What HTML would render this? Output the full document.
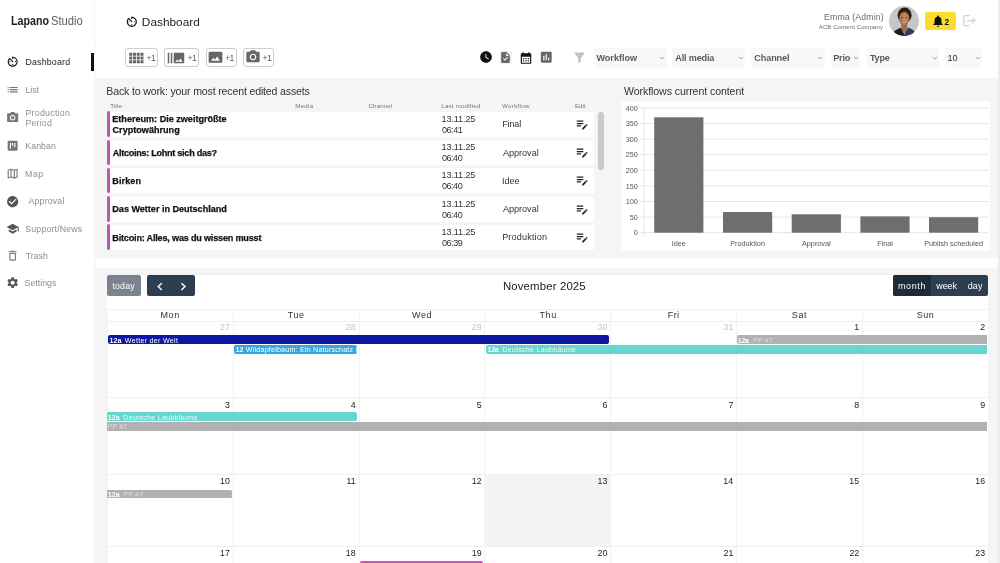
<!DOCTYPE html>
<html lang="en">
<head>
<meta charset="utf-8">
<title>Lapano Studio - Dashboard</title>
<style>
*{box-sizing:border-box;margin:0;padding:0}
html,body{width:1000px;height:563px;overflow:hidden;background:#fff}
body{font-family:"Liberation Sans",sans-serif;color:#333;position:relative;font-size:9px}
.abs{position:absolute}
.t{position:absolute;white-space:nowrap;line-height:1}
#sidebar{position:absolute;left:0;top:0;width:94px;height:563px;background:#fff}
#main{position:absolute;left:94px;top:78px;width:906px;height:485px;background:#f5f5f5}
.tb{position:absolute;top:48.2px;height:18.6px;border:1px solid #cdcdcd;border-radius:3px;background:#fff}
.sel{position:absolute;top:48.4px;height:19.2px;background:#f8f8f8;border-radius:3px}
.row{position:absolute;left:108px;width:486px;height:25.3px;background:#fff}
.vl{position:absolute;width:1px;background:#f2f2f2}
.hl{position:absolute;height:1px;background:#efefef;left:107px;width:881px}
.cb{position:absolute;top:275.4px;height:20.2px}
</style>
</head>
<body>
<div id="sidebar"></div>
<div id="main"></div>
<div class="abs" style="left:94px;top:40px;width:906px;height:1px;background:#fafafa"></div>
<div class="abs" style="left:93.500px;top:0;width:1px;height:78px;background:#f4f4f4"></div>
<div class="abs" style="left:95px;top:257.800px;width:903px;height:10.100px;background:#fefefe;border-radius:3px"></div>
<div class="abs" style="left:107px;top:273.500px;width:881px;height:1.500px;background:#efefef"></div>
<div class="abs" style="left:107px;top:275px;width:881px;height:288px;background:#fff"></div>
<div class="abs" style="left:998px;top:0;width:2px;height:563px;background:#ececec"></div>
<nav aria-label="Sidebar">
<div class="t" style="left:11.10px;top:14.00px;font-size:13px;color:#1e1e1e;font-weight:bold;transform:translateY(-0.5px) scaleX(0.824);transform-origin:0 0;">Lapano</div>
<div class="t" style="left:50.70px;top:14.00px;font-size:13px;color:#606060;transform:translateY(-0.5px) scaleX(0.862);transform-origin:0 0;">Studio</div>
<div class="abs" style="left:91px;top:53px;width:3px;height:18px;background:#111"></div>
<div class="t" style="left:25.50px;top:58.00px;font-size:8.8px;color:#222;letter-spacing:0.187px;">Dashboard</div>
<div class="t" style="left:25.50px;top:86.00px;font-size:8.8px;color:#8e8e8e;letter-spacing:-0.093px;">List</div>
<div class="t" style="left:25.50px;top:109.00px;font-size:8.8px;color:#8e8e8e;letter-spacing:0.252px;">Production</div>
<div class="t" style="left:25.50px;top:119.00px;font-size:8.8px;color:#8e8e8e;letter-spacing:0.180px;">Period</div>
<div class="t" style="left:25.30px;top:142.00px;font-size:8.8px;color:#8e8e8e;letter-spacing:0.043px;">Kanban</div>
<div class="t" style="left:25.10px;top:170.00px;font-size:8.8px;color:#8e8e8e;letter-spacing:0.520px;">Map</div>
<div class="t" style="left:28.50px;top:197.00px;font-size:8.8px;color:#8e8e8e;letter-spacing:0.159px;">Approval</div>
<div class="t" style="left:25.30px;top:225.00px;font-size:8.8px;color:#8e8e8e;letter-spacing:0.149px;">Support/News</div>
<div class="t" style="left:25.82px;top:252.00px;font-size:8.8px;color:#8e8e8e;letter-spacing:-0.043px;">Trash</div>
<div class="t" style="left:24.50px;top:279.00px;font-size:8.8px;color:#8e8e8e;letter-spacing:0.013px;">Settings</div>
<svg class="abs" style="left:6.45px;top:55.35px" width="13.3" height="13.3" viewBox="0 0 24 24"><path d="M11 17c0 .550.450 1 1 1s1-.450 1-1-.450-1-1-1-1 .450-1 1zm0-14v4h2V5.080c3.390.490 6 3.390 6 6.920 0 3.870-3.130 7-7 7s-7-3.130-7-7c0-1.680.590-3.220 1.580-4.420L12 13l1.410-1.410-6.800-6.800v.020C4.420 6.450 3 9.050 3 12c0 4.970 4.020 9 9 9 4.970 0 9-4.030 9-9s-4.030-9-9-9h-1zm7 9c0-.550-.450-1-1-1s-1 .450-1 1 .450 1 1 1 1-.450 1-1zM6 12c0 .550.450 1 1 1s1-.450 1-1-.450-1-1-1-1 .450-1 1z" fill="#111" fill-rule="evenodd"/></svg>
<svg class="abs" style="left:6.45px;top:82.95px" width="13.3" height="13.3" viewBox="0 0 24 24"><path d="M3 13h2v-2H3v2zm0 4h2v-2H3v2zm0-8h2V7H3v2zm4 4h14v-2H7v2zm0 4h14v-2H7v2zM7 7v2h14V7H7z" fill="#777" fill-rule="evenodd"/></svg>
<svg class="abs" style="left:6.45px;top:110.55px" width="13.3" height="13.3" viewBox="0 0 24 24"><path d="M9 2L7.17 4H4c-1.1 0-2 .9-2 2v12c0 1.1.9 2 2 2h16c1.1 0 2-.9 2-2V6c0-1.1-.9-2-2-2h-3.17L15 2H9zm3 15c-2.760 0-5-2.240-5-5s2.240-5 5-5 5 2.240 5 5-2.240 5-5 5zM12 8.800a3.200 3.200 0 1 0 0 6.400a3.200 3.200 0 1 0 0-6.400z" fill="#777" fill-rule="evenodd"/></svg>
<svg class="abs" style="left:6.45px;top:139.35px" width="13.3" height="13.3" viewBox="0 0 24 24"><path d="M19 3H5c-1.100 0-2 .900-2 2v14c0 1.100.900 2 2 2h14c1.100 0 2-.900 2-2V5c0-1.100-.900-2-2-2zM9 17H7V7h2v10zm4-5h-2V7h2v5zm4 3h-2V7h2v8z" fill="#777" fill-rule="evenodd"/></svg>
<svg class="abs" style="left:6.45px;top:166.85px" width="13.3" height="13.3" viewBox="0 0 24 24"><path d="M20.500 3l-.160.030L15 5.100 9 3 3.360 4.900c-.210.070-.360.250-.360.480V20.500c0 .280.220.500.500.500l.160-.030L9 18.900l6 2.100 5.640-1.900c.210-.070.360-.250.360-.480V3.500c0-.280-.220-.500-.500-.500zM10 5.470l4 1.400v11.660l-4-1.400V5.470zm-5 .990l3-1.010v11.700l-3 1.160V6.460zm14 11.080l-3 1.010V6.860l3-1.160v11.840z" fill="#777" fill-rule="evenodd"/></svg>
<svg class="abs" style="left:6.45px;top:194.55px" width="13.3" height="13.3" viewBox="0 0 24 24"><path d="M12 2C6.480 2 2 6.480 2 12s4.480 10 10 10 10-4.480 10-10S17.520 2 12 2zm-2 15l-5-5 1.410-1.410L10 14.170l7.590-7.590L19 8l-9 9z" fill="#555" fill-rule="evenodd"/></svg>
<svg class="abs" style="left:6.45px;top:221.75px" width="13.3" height="13.3" viewBox="0 0 24 24"><path d="M5 13.180v4L12 21l7-3.820v-4L12 17l-7-3.820zM12 3L1 9l11 6 9-4.910V17h2V9L12 3z" fill="#555" fill-rule="evenodd"/></svg>
<svg class="abs" style="left:6.45px;top:248.75px" width="13.3" height="13.3" viewBox="0 0 24 24"><path d="M6 19c0 1.100.900 2 2 2h8c1.100 0 2-.900 2-2V7H6v12zM8 9h8v10H8V9zm7.500-5l-1-1h-5l-1 1H5v2h14V4z" fill="#777" fill-rule="evenodd"/></svg>
<svg class="abs" style="left:6.45px;top:276.35px" width="13.3" height="13.3" viewBox="0 0 24 24"><path d="M19.140 12.940c.040-.300.060-.610.060-.940 0-.320-.020-.640-.070-.940l2.030-1.580c.180-.140.230-.410.120-.610l-1.920-3.320c-.120-.220-.370-.290-.590-.220l-2.390.960c-.500-.380-1.030-.700-1.620-.940l-.360-2.540c-.040-.240-.240-.410-.480-.410h-3.840c-.240 0-.430.170-.470.410l-.360 2.540c-.590.240-1.130.570-1.620.940l-2.390-.960c-.220-.080-.470 0-.590.220L2.740 8.870c-.120.210-.080.470.120.610l2.030 1.580c-.050.300-.090.630-.090.940s.020.640.070.940l-2.030 1.580c-.180.140-.230.410-.120.610l1.920 3.320c.120.220.370.290.590.220l2.390-.960c.500.380 1.030.700 1.620.940l.360 2.540c.050.240.240.410.480.410h3.840c.240 0 .440-.170.470-.410l.360-2.540c.590-.240 1.130-.560 1.620-.940l2.390.960c.220.080.470 0 .590-.220l1.920-3.320c.120-.220.070-.470-.120-.610l-2.010-1.580zM12 15.600c-1.980 0-3.600-1.620-3.600-3.600s1.620-3.600 3.600-3.600 3.600 1.620 3.600 3.600-1.620 3.600-3.600 3.600z" fill="#555" fill-rule="evenodd"/></svg>
</nav>
<header>
<svg class="abs" style="left:125.1px;top:14.8px" width="13.6" height="13.6" viewBox="0 0 24 24"><path d="M11 17c0 .550.450 1 1 1s1-.450 1-1-.450-1-1-1-1 .450-1 1zm0-14v4h2V5.080c3.390.490 6 3.390 6 6.920 0 3.870-3.130 7-7 7s-7-3.130-7-7c0-1.680.590-3.220 1.580-4.420L12 13l1.410-1.410-6.800-6.800v.020C4.420 6.450 3 9.050 3 12c0 4.970 4.020 9 9 9 4.970 0 9-4.030 9-9s-4.030-9-9-9h-1zm7 9c0-.550-.450-1-1-1s-1 .450-1 1 .450 1 1 1 1-.450 1-1zM6 12c0 .550.450 1 1 1s1-.450 1-1-.450-1-1-1-1 .450-1 1z" fill="#111" fill-rule="evenodd"/></svg>
<div class="t" style="left:141.86px;top:17.00px;font-size:11.8px;color:#222;letter-spacing:0.019px;">Dashboard</div>
<div class="t" style="left:824.10px;top:13.00px;font-size:8.7px;color:#6a6a6a;letter-spacing:0.144px;">Emma (Admin)</div>
<div class="t" style="left:818.80px;top:25.00px;font-size:5.9px;color:#6a6a6a;letter-spacing:0.159px;">ACB Content Company</div>
<svg class="abs" style="left:889px;top:6px" width="30" height="30" viewBox="0 0 30 30"><defs><clipPath id="av"><circle cx="15" cy="15" r="15"/></clipPath></defs><g clip-path="url(#av)"><rect width="30" height="30" fill="#c6c6c6"/><ellipse cx="15.600" cy="9.200" rx="7" ry="7.600" fill="#2a1d18"/><path d="M12.300 17h6v6l-3 5-3-5z" fill="#a06846"/><path d="M3 30c.500-4 3-6 8.800-8.200l3.600 7.200 3.800-7.200c5 1.800 7.300 4 7.800 8.200z" fill="#1b1c22"/><path d="M15.400 29l3.800-7.200c5 1.800 7.300 4 7.800 8.200h-11.600z" fill="#27405f"/><ellipse cx="15.300" cy="12.700" rx="5.100" ry="6.900" fill="#ad7450"/><ellipse cx="15.900" cy="11.800" rx="3" ry="4" fill="#c8936c" opacity=".65"/><ellipse cx="13.300" cy="11.600" rx="1" ry=".550" fill="#5a3826"/><ellipse cx="17.300" cy="11.600" rx="1" ry=".550" fill="#5a3826"/><path d="M12.800 15.400q2.500 2.400 5 0q-2.500 1-5 0z" fill="#f3e9e2"/></g></svg>
<div class="abs" style="left:925.4px;top:12px;width:30.600px;height:18.200px;background:#fbde2c;border-radius:2px"></div>
<svg class="abs" style="left:930.6px;top:14.2px" width="14" height="14" viewBox="0 0 24 24"><path d="M12 22c1.100 0 2-.900 2-2h-4c0 1.100.890 2 2 2zm6-6v-5c0-3.070-1.640-5.640-4.500-6.320V4c0-.830-.670-1.500-1.500-1.500s-1.500.670-1.500 1.500v.680C7.630 5.360 6 7.920 6 11v5l-2 2v1h16v-1l-2-2z" fill="#111" fill-rule="evenodd"/></svg>
<div class="t" style="left:944.55px;top:18.00px;font-size:8.4px;color:#111;font-weight:bold;">2</div>
<svg class="abs" style="left:961.9px;top:13.4px" width="15" height="15" viewBox="0 0 24 24"><path d="M17 7l-1.410 1.410L18.170 11H8v2h10.170l-2.580 2.580L17 17l5-5zM4 5h8V3H4c-1.100 0-2 .900-2 2v14c0 1.100.900 2 2 2h8v-2H4V5z" fill="#d2d2d2" fill-rule="evenodd"/></svg>
</header>
<section aria-label="Toolbar">
<div class="tb" style="left:125px;width:33.4px"></div>
<div class="t" style="left:146.51px;top:54.00px;font-size:8.6px;color:#5a5a5a;letter-spacing:-0.600px;">+1</div>
<div class="tb" style="left:164.3px;width:35.0px"></div>
<div class="t" style="left:187.61px;top:54.00px;font-size:8.6px;color:#5a5a5a;letter-spacing:-0.600px;">+1</div>
<div class="tb" style="left:205.5px;width:31.2px"></div>
<div class="t" style="left:225.21px;top:54.00px;font-size:8.6px;color:#5a5a5a;letter-spacing:-0.600px;">+1</div>
<div class="tb" style="left:243.2px;width:30.8px"></div>
<div class="t" style="left:262.51px;top:54.00px;font-size:8.6px;color:#5a5a5a;letter-spacing:-0.600px;">+1</div>
<svg class="abs" style="left:126.5px;top:48.6px" width="18" height="18" viewBox="0 0 24 24"><path d="M3 9h4V5H3v4zm0 5h4v-4H3v4zm5 0h4v-4H8v4zm5 0h4v-4h-4v4zM8 9h4V5H8v4zm5-4v4h4V5h-4zm5 9h4v-4h-4v4zM3 19h4v-4H3v4zm5 0h4v-4H8v4zm5 0h4v-4h-4v4zm5 0h4v-4h-4v4zm0-14v4h4V5h-4z" fill="#666" fill-rule="evenodd"/></svg>
<svg class="abs" style="left:166.5px;top:48.6px" width="18" height="18" viewBox="0 0 24 24"><path d="M1 5h2v14H1zm4 0h2v14H5zm17 0H10c-.550 0-1 .450-1 1v12c0 .550.450 1 1 1h12c.550 0 1-.450 1-1V6c0-.550-.450-1-1-1zM11 17l2.500-3.150L15.290 16l2.500-3.220L21 17H11z" fill="#666" fill-rule="evenodd"/></svg>
<svg class="abs" style="left:207.8px;top:48.7px" width="15" height="16.6" viewBox="0 0 24 24" preserveAspectRatio="none"><path d="M23 18V6c0-1.100-.900-2-2-2H3c-1.100 0-2 .900-2 2v12c0 1.100.900 2 2 2h18c1.100 0 2-.900 2-2zM8.500 12.500l2.500 3.010L14.500 11l4.500 6H5l3.500-4.500z" fill="#666" fill-rule="evenodd"/></svg>
<svg class="abs" style="left:244.7px;top:49.1px" width="16" height="16" viewBox="0 0 24 24"><path d="M9 2L7.17 4H4c-1.1 0-2 .9-2 2v12c0 1.1.9 2 2 2h16c1.1 0 2-.9 2-2V6c0-1.1-.9-2-2-2h-3.17L15 2H9zm3 15c-2.760 0-5-2.240-5-5s2.240-5 5-5 5 2.240 5 5-2.240 5-5 5zM12 8.800a3.200 3.200 0 1 0 0 6.400a3.200 3.200 0 1 0 0-6.400z" fill="#666" fill-rule="evenodd"/></svg>
<svg class="abs" style="left:478.9px;top:50.1px" width="14" height="14" viewBox="0 0 24 24"><path d="M12 2C6.500 2 2 6.500 2 12s4.500 10 10 10 10-4.500 10-10S17.500 2 12 2zm4.200 14.200L11 13V7h1.500v5.200l4.500 2.700-.800 1.300z" fill="#111" fill-rule="evenodd"/></svg>
<div class="abs" style="left:500px;top:51px;width:12px;height:13px;background:#f1f1f1"></div>
<svg class="abs" style="left:499.3px;top:51.2px" width="13" height="13" viewBox="0 0 24 24"><path d="M14 2H6c-1.100 0-1.990.900-1.990 2L4 20c0 1.100.890 2 1.990 2H18c1.100 0 2-.900 2-2V8l-6-6zm-3.060 16L7.400 14.460l1.410-1.410 2.120 2.120 4.240-4.240 1.410 1.410L10.940 18zM13 9V3.500L18.500 9H13z" fill="#6a6a6a" fill-rule="evenodd"/></svg>
<svg class="abs" style="left:518.6px;top:50.5px" width="14" height="14" viewBox="0 0 24 24"><path d="M19 4h-1V2h-2v2H8V2H6v2H5c-1.110 0-1.990.900-1.990 2L3 20c0 1.100.890 2 2 2h14c1.100 0 2-.900 2-2V6c0-1.100-.900-2-2-2zm0 16H5V10h14v10zM9 14H7v-2h2v2zm4 0h-2v-2h2v2zm4 0h-2v-2h2v2zm-8 4H7v-2h2v2zm4 0h-2v-2h2v2zm4 0h-2v-2h2v2z" fill="#111" fill-rule="evenodd"/></svg>
<svg class="abs" style="left:539.2px;top:50.2px" width="14.5" height="14.5" viewBox="0 0 24 24"><path d="M19 3H5c-1.100 0-2 .900-2 2v14c0 1.100.900 2 2 2h14c1.100 0 2-.900 2-2V5c0-1.100-.900-2-2-2zM9 17H7v-7h2v7zm4 0h-2V7h2v10zm4 0h-2v-4h2v4z" fill="#666" fill-rule="evenodd"/></svg>
<svg class="abs" style="left:572.4px;top:50px" width="15" height="15" viewBox="0 0 24 24"><path d="M4.250 5.610C6.270 8.200 10 13 10 13v6c0 .550.450 1 1 1h2c.550 0 1-.450 1-1v-6s3.720-4.800 5.740-7.390c.510-.660.040-1.610-.790-1.610H5.040c-.830 0-1.300.950-.790 1.610z" fill="#c2c2c2" fill-rule="evenodd"/></svg>
<div class="sel" style="left:594px;width:72.8px"></div>
<div class="t" style="left:596.40px;top:54.00px;font-size:9.1px;color:#5a5a5a;font-weight:bold;">Workflow</div>
<svg class="abs" style="left:659.2px;top:55px" width="6" height="6" viewBox="0 0 6 6"><path d="M1 2l2 2 2-2" stroke="#999" stroke-width="0.900" fill="none"/></svg>
<div class="sel" style="left:672.4px;width:72.8px"></div>
<div class="t" style="left:675.37px;top:54.00px;font-size:9.1px;color:#5a5a5a;font-weight:bold;letter-spacing:-0.177px;">All media</div>
<svg class="abs" style="left:737.8px;top:55px" width="6" height="6" viewBox="0 0 6 6"><path d="M1 2l2 2 2-2" stroke="#999" stroke-width="0.900" fill="none"/></svg>
<div class="sel" style="left:751.4px;width:73.2px"></div>
<div class="t" style="left:754.34px;top:54.00px;font-size:9.1px;color:#5a5a5a;font-weight:bold;letter-spacing:-0.116px;">Channel</div>
<svg class="abs" style="left:816.8px;top:55px" width="6" height="6" viewBox="0 0 6 6"><path d="M1 2l2 2 2-2" stroke="#999" stroke-width="0.900" fill="none"/></svg>
<div class="sel" style="left:830.5px;width:29.5px"></div>
<div class="t" style="left:833.21px;top:54.00px;font-size:9.1px;color:#5a5a5a;font-weight:bold;letter-spacing:-0.196px;">Prio</div>
<svg class="abs" style="left:853.0px;top:55px" width="6" height="6" viewBox="0 0 6 6"><path d="M1 2l2 2 2-2" stroke="#999" stroke-width="0.900" fill="none"/></svg>
<div class="sel" style="left:867px;width:72.4px"></div>
<div class="t" style="left:869.91px;top:54.00px;font-size:9.1px;color:#5a5a5a;font-weight:bold;letter-spacing:-0.201px;">Type</div>
<svg class="abs" style="left:932.0px;top:55px" width="6" height="6" viewBox="0 0 6 6"><path d="M1 2l2 2 2-2" stroke="#999" stroke-width="0.900" fill="none"/></svg>
<div class="sel" style="left:944.7px;width:37.8px"></div>
<div class="t" style="left:947.62px;top:54.00px;font-size:9.1px;color:#333;letter-spacing:-0.200px;">10</div>
<svg class="abs" style="left:975.0px;top:55px" width="6" height="6" viewBox="0 0 6 6"><path d="M1 2l2 2 2-2" stroke="#999" stroke-width="0.900" fill="none"/></svg>
</section>
<section aria-label="Recent assets">
<div class="t" style="left:106.35px;top:86.00px;font-size:10.6px;color:#333;letter-spacing:-0.170px;">Back to work: your most recent edited assets</div>
<div class="t" style="left:110.28px;top:103.00px;font-size:6.2px;color:#777;letter-spacing:0.025px;">Title</div>
<div class="t" style="left:295.20px;top:103.00px;font-size:6.2px;color:#777;letter-spacing:0.293px;">Media</div>
<div class="t" style="left:368.49px;top:103.00px;font-size:6.2px;color:#777;letter-spacing:0.131px;">Channel</div>
<div class="t" style="left:441.30px;top:103.00px;font-size:6.2px;color:#777;letter-spacing:0.184px;">Last modified</div>
<div class="t" style="left:502.10px;top:103.00px;font-size:6.2px;color:#777;letter-spacing:0.287px;">Workflow</div>
<div class="t" style="left:574.90px;top:103.00px;font-size:6.2px;color:#777;letter-spacing:0.077px;">Edit</div>
<div class="row" style="top:111.60px"></div>
<div class="abs" style="left:106.5px;top:111.20px;width:3px;height:25.600px;background:#c255b8;border-radius:1.500px"></div>
<div class="t" style="left:112.31px;top:115.00px;font-size:9.1px;color:#111;font-weight:bold;letter-spacing:-0.016px;-webkit-text-stroke:0.250px #111;">Ethereum: Die zweitgrößte</div>
<div class="t" style="left:112.54px;top:126.00px;font-size:9.1px;color:#111;font-weight:bold;-webkit-text-stroke:0.250px #111;">Cryptowährung</div>
<div class="t" style="left:441.52px;top:115.00px;font-size:9.1px;color:#333;letter-spacing:-0.124px;">13.11.25</div>
<div class="t" style="left:441.88px;top:126.00px;font-size:9.1px;color:#333;letter-spacing:-0.456px;">06:41</div>
<div class="t" style="left:502.17px;top:120.00px;font-size:9.1px;color:#333;letter-spacing:-0.157px;">Final</div>
<svg class="abs" style="left:575.1px;top:116.80px" width="14.300" height="14.300" viewBox="0 0 24 24"><path d="M3 10h11v2H3v-2zm0-2h11V6H3v2zm0 8h7v-2H3v2zm15.010-3.130l.710-.710c.390-.390 1.020-.390 1.410 0l.710.710c.390.390.390 1.020 0 1.410l-.710.710-2.120-2.120zm-.710.710l-5.300 5.300V21h2.120l5.300-5.300-2.120-2.120z" fill="#222"/></svg>
<div class="row" style="top:140.20px"></div>
<div class="abs" style="left:106.5px;top:139.80px;width:3px;height:25.600px;background:#c255b8;border-radius:1.500px"></div>
<div class="t" style="left:112.67px;top:149.00px;font-size:9.1px;color:#111;font-weight:bold;letter-spacing:-0.282px;-webkit-text-stroke:0.250px #111;">Altcoins: Lohnt sich das?</div>
<div class="t" style="left:441.52px;top:143.00px;font-size:9.1px;color:#333;letter-spacing:-0.124px;">13.11.25</div>
<div class="t" style="left:441.88px;top:154.00px;font-size:9.1px;color:#333;letter-spacing:-0.478px;">06:40</div>
<div class="t" style="left:502.90px;top:149.00px;font-size:9.1px;color:#333;letter-spacing:-0.008px;">Approval</div>
<svg class="abs" style="left:575.1px;top:145.40px" width="14.300" height="14.300" viewBox="0 0 24 24"><path d="M3 10h11v2H3v-2zm0-2h11V6H3v2zm0 8h7v-2H3v2zm15.010-3.130l.710-.710c.390-.390 1.020-.390 1.410 0l.710.710c.390.390.390 1.020 0 1.410l-.710.710-2.120-2.120zm-.710.710l-5.300 5.300V21h2.120l5.300-5.300-2.120-2.120z" fill="#222"/></svg>
<div class="row" style="top:168.20px"></div>
<div class="abs" style="left:106.5px;top:167.80px;width:3px;height:25.600px;background:#c255b8;border-radius:1.500px"></div>
<div class="t" style="left:112.31px;top:177.00px;font-size:9.1px;color:#111;font-weight:bold;letter-spacing:0.087px;-webkit-text-stroke:0.250px #111;">Birken</div>
<div class="t" style="left:441.52px;top:171.00px;font-size:9.1px;color:#333;letter-spacing:-0.124px;">13.11.25</div>
<div class="t" style="left:441.88px;top:182.00px;font-size:9.1px;color:#333;letter-spacing:-0.478px;">06:40</div>
<div class="t" style="left:502.08px;top:177.00px;font-size:9.1px;color:#333;letter-spacing:-0.039px;">Idee</div>
<svg class="abs" style="left:575.1px;top:173.40px" width="14.300" height="14.300" viewBox="0 0 24 24"><path d="M3 10h11v2H3v-2zm0-2h11V6H3v2zm0 8h7v-2H3v2zm15.010-3.130l.710-.710c.390-.390 1.020-.390 1.410 0l.710.710c.390.390.390 1.020 0 1.410l-.710.710-2.120-2.120zm-.710.710l-5.300 5.300V21h2.120l5.300-5.300-2.120-2.120z" fill="#222"/></svg>
<div class="row" style="top:196.50px"></div>
<div class="abs" style="left:106.5px;top:196.10px;width:3px;height:25.600px;background:#c255b8;border-radius:1.500px"></div>
<div class="t" style="left:112.31px;top:205.00px;font-size:9.1px;color:#111;font-weight:bold;letter-spacing:-0.022px;-webkit-text-stroke:0.250px #111;">Das Wetter in Deutschland</div>
<div class="t" style="left:441.52px;top:200.00px;font-size:9.1px;color:#333;letter-spacing:-0.124px;">13.11.25</div>
<div class="t" style="left:441.88px;top:211.00px;font-size:9.1px;color:#333;letter-spacing:-0.478px;">06:40</div>
<div class="t" style="left:502.90px;top:205.00px;font-size:9.1px;color:#333;letter-spacing:-0.008px;">Approval</div>
<svg class="abs" style="left:575.1px;top:201.70px" width="14.300" height="14.300" viewBox="0 0 24 24"><path d="M3 10h11v2H3v-2zm0-2h11V6H3v2zm0 8h7v-2H3v2zm15.010-3.130l.710-.710c.390-.390 1.020-.390 1.410 0l.710.710c.390.390.390 1.020 0 1.410l-.710.710-2.120-2.120zm-.710.710l-5.300 5.300V21h2.120l5.300-5.300-2.120-2.120z" fill="#222"/></svg>
<div class="row" style="top:224.70px"></div>
<div class="abs" style="left:106.5px;top:224.30px;width:3px;height:25.600px;background:#c255b8;border-radius:1.500px"></div>
<div class="t" style="left:112.31px;top:234.00px;font-size:9.1px;color:#111;font-weight:bold;letter-spacing:-0.195px;-webkit-text-stroke:0.250px #111;">Bitcoin: Alles, was du wissen musst</div>
<div class="t" style="left:441.52px;top:228.00px;font-size:9.1px;color:#333;letter-spacing:-0.124px;">13.11.25</div>
<div class="t" style="left:441.88px;top:239.00px;font-size:9.1px;color:#333;letter-spacing:-0.456px;">06:39</div>
<div class="t" style="left:502.17px;top:233.00px;font-size:9.1px;color:#333;letter-spacing:0.153px;">Produktion</div>
<svg class="abs" style="left:575.1px;top:229.90px" width="14.300" height="14.300" viewBox="0 0 24 24"><path d="M3 10h11v2H3v-2zm0-2h11V6H3v2zm0 8h7v-2H3v2zm15.010-3.130l.710-.710c.390-.390 1.020-.390 1.410 0l.710.710c.390.390.390 1.020 0 1.410l-.710.710-2.120-2.120zm-.710.710l-5.300 5.300V21h2.120l5.300-5.300-2.120-2.120z" fill="#222"/></svg>
<div class="abs" style="left:598.3px;top:112px;width:5.500px;height:58px;background:#c9c9c9;border-radius:3px"></div>
</section>
<section aria-label="Workflows chart">
<div class="t" style="left:624.00px;top:86.00px;font-size:10.6px;color:#333;letter-spacing:-0.088px;">Workflows current content</div>
<div class="abs" style="left:622px;top:100.5px;width:368px;height:150.500px;background:#fff;border-radius:2px"></div>
<svg class="abs" style="left:622px;top:100px" width="368" height="152" viewBox="622 100 368 152" font-family="Liberation Sans, sans-serif"><line x1="639.500" x2="988" y1="232.7" y2="232.7" stroke="#e6e6e6" stroke-width="1"/><text x="637.900" y="235.3" font-size="7.250" fill="#555" text-anchor="end">0</text><line x1="639.500" x2="988" y1="217.1" y2="217.1" stroke="#e6e6e6" stroke-width="1"/><text x="637.900" y="219.7" font-size="7.250" fill="#555" text-anchor="end">50</text><line x1="639.500" x2="988" y1="201.5" y2="201.5" stroke="#e6e6e6" stroke-width="1"/><text x="637.900" y="204.1" font-size="7.250" fill="#555" text-anchor="end">100</text><line x1="639.500" x2="988" y1="185.9" y2="185.9" stroke="#e6e6e6" stroke-width="1"/><text x="637.900" y="188.5" font-size="7.250" fill="#555" text-anchor="end">150</text><line x1="639.500" x2="988" y1="170.3" y2="170.3" stroke="#e6e6e6" stroke-width="1"/><text x="637.900" y="172.9" font-size="7.250" fill="#555" text-anchor="end">200</text><line x1="639.500" x2="988" y1="154.7" y2="154.7" stroke="#e6e6e6" stroke-width="1"/><text x="637.900" y="157.3" font-size="7.250" fill="#555" text-anchor="end">250</text><line x1="639.500" x2="988" y1="139.1" y2="139.1" stroke="#e6e6e6" stroke-width="1"/><text x="637.900" y="141.7" font-size="7.250" fill="#555" text-anchor="end">300</text><line x1="639.500" x2="988" y1="123.5" y2="123.5" stroke="#e6e6e6" stroke-width="1"/><text x="637.900" y="126.1" font-size="7.250" fill="#555" text-anchor="end">350</text><line x1="639.500" x2="988" y1="107.9" y2="107.9" stroke="#e6e6e6" stroke-width="1"/><text x="637.900" y="110.5" font-size="7.250" fill="#555" text-anchor="end">400</text><line x1="644" x2="644" y1="107.500" y2="236" stroke="#e6e6e6" stroke-width="1"/><rect x="654.2" y="117.3" width="49.2" height="115.4" fill="#6e6e70"/><text x="678.8" y="246.200" font-size="7.250" fill="#555" text-anchor="middle">Idee</text><rect x="723" y="212" width="49.2" height="20.7" fill="#6e6e70"/><text x="747.6" y="246.200" font-size="7.250" fill="#555" text-anchor="middle">Produktion</text><rect x="791.7" y="214.3" width="49.2" height="18.4" fill="#6e6e70"/><text x="816.3" y="246.200" font-size="7.250" fill="#555" text-anchor="middle">Approval</text><rect x="860.4" y="216.4" width="49.2" height="16.3" fill="#6e6e70"/><text x="885.0" y="246.200" font-size="7.250" fill="#555" text-anchor="middle">Final</text><rect x="929" y="217.2" width="49.2" height="15.5" fill="#6e6e70"/><text x="953.6" y="246.200" font-size="7.250" fill="#555" text-anchor="middle">Publish scheduled</text></svg>
</section>
<section aria-label="Calendar">
<div class="cb" style="left:106.8px;width:34px;background:#7b848e;border-radius:2px"></div>
<div class="t" style="left:112.47px;top:282.00px;font-size:8.8px;color:#fff;letter-spacing:0.154px;">today</div>
<div class="cb" style="left:147.2px;width:48.200px;background:#2c3e50;border-radius:2px"></div>
<svg class="abs" style="left:147px;top:275px" width="49" height="21" viewBox="147 275 49 21"><path d="M161.800 283.200l-3.600 3.400 3.600 3.400M181.400 283.200l3.600 3.400-3.600 3.400" stroke="#fff" stroke-width="1.400" fill="none"/></svg>
<div class="t" style="left:502.89px;top:281.00px;font-size:11.4px;color:#222;letter-spacing:0.146px;">November 2025</div>
<div class="cb" style="left:893px;width:95.200px;background:#2c3e50;border-radius:2px"></div>
<div class="cb" style="left:893px;width:38px;background:#1e2b38;border-radius:2px 0 0 2px"></div>
<div class="t" style="left:898.01px;top:282.00px;font-size:9.0px;color:#fff;letter-spacing:0.600px;">month</div>
<div class="t" style="left:936.34px;top:282.00px;font-size:9.0px;color:#fff;letter-spacing:-0.135px;">week</div>
<div class="t" style="left:967.64px;top:282.00px;font-size:9.0px;color:#fff;letter-spacing:0.135px;">day</div>
<div class="abs" style="left:485.4px;top:474.2px;width:124.9px;height:72px;background:#f4f4f4"></div>
<div class="hl" style="top:309.3px"></div>
<div class="hl" style="top:321.0px"></div>
<div class="hl" style="top:397.2px"></div>
<div class="hl" style="top:473.6px"></div>
<div class="hl" style="top:546.0px"></div>
<div class="vl" style="left:106.8px;top:309.3px;height:254px"></div>
<div class="vl" style="left:232.7px;top:309.3px;height:254px"></div>
<div class="vl" style="left:358.5px;top:309.3px;height:254px"></div>
<div class="vl" style="left:484.4px;top:309.3px;height:254px"></div>
<div class="vl" style="left:610.3px;top:309.3px;height:254px"></div>
<div class="vl" style="left:736.1px;top:309.3px;height:254px"></div>
<div class="vl" style="left:862.0px;top:309.3px;height:254px"></div>
<div class="t" style="left:160.46px;top:311.00px;font-size:9.0px;color:#333;letter-spacing:0.600px;">Mon</div>
<div class="t" style="left:287.75px;top:311.00px;font-size:9.0px;color:#333;letter-spacing:0.600px;">Tue</div>
<div class="t" style="left:412.09px;top:311.00px;font-size:9.0px;color:#333;letter-spacing:0.600px;">Wed</div>
<div class="t" style="left:539.45px;top:311.00px;font-size:9.0px;color:#333;letter-spacing:0.600px;">Thu</div>
<div class="t" style="left:667.79px;top:311.00px;font-size:9.0px;color:#333;letter-spacing:0.413px;">Fri</div>
<div class="t" style="left:791.84px;top:311.00px;font-size:9.0px;color:#333;letter-spacing:0.589px;">Sat</div>
<div class="t" style="left:916.63px;top:311.00px;font-size:9.0px;color:#333;letter-spacing:0.600px;">Sun</div>
<div class="t" style="left:220.05px;top:323.00px;font-size:8.8px;color:#c6c6c6;letter-spacing:0.050px;">27</div>
<div class="t" style="left:345.87px;top:323.00px;font-size:8.8px;color:#c6c6c6;letter-spacing:0.050px;">28</div>
<div class="t" style="left:471.79px;top:323.00px;font-size:8.8px;color:#c6c6c6;letter-spacing:0.050px;">29</div>
<div class="t" style="left:597.57px;top:323.00px;font-size:8.8px;color:#c6c6c6;letter-spacing:0.050px;">30</div>
<div class="t" style="left:723.53px;top:323.00px;font-size:8.8px;color:#c6c6c6;letter-spacing:0.050px;">31</div>
<div class="t" style="left:854.33px;top:323.00px;font-size:8.8px;color:#222;">1</div>
<div class="t" style="left:980.20px;top:323.00px;font-size:8.8px;color:#222;">2</div>
<div class="t" style="left:224.94px;top:401.00px;font-size:8.8px;color:#222;">3</div>
<div class="t" style="left:350.68px;top:401.00px;font-size:8.8px;color:#222;">4</div>
<div class="t" style="left:476.68px;top:401.00px;font-size:8.8px;color:#222;">5</div>
<div class="t" style="left:602.55px;top:401.00px;font-size:8.8px;color:#222;">6</div>
<div class="t" style="left:728.46px;top:401.00px;font-size:8.8px;color:#222;">7</div>
<div class="t" style="left:854.29px;top:401.00px;font-size:8.8px;color:#222;">8</div>
<div class="t" style="left:980.20px;top:401.00px;font-size:8.8px;color:#222;">9</div>
<div class="t" style="left:219.96px;top:477.00px;font-size:8.8px;color:#222;letter-spacing:0.050px;">10</div>
<div class="t" style="left:346.58px;top:477.00px;font-size:8.8px;color:#222;letter-spacing:0.050px;">11</div>
<div class="t" style="left:471.79px;top:477.00px;font-size:8.8px;color:#222;letter-spacing:0.050px;">12</div>
<div class="t" style="left:597.61px;top:477.00px;font-size:8.8px;color:#222;letter-spacing:0.050px;">13</div>
<div class="t" style="left:723.35px;top:477.00px;font-size:8.8px;color:#222;letter-spacing:0.050px;">14</div>
<div class="t" style="left:849.35px;top:477.00px;font-size:8.8px;color:#222;letter-spacing:0.050px;">15</div>
<div class="t" style="left:975.22px;top:477.00px;font-size:8.8px;color:#222;letter-spacing:0.050px;">16</div>
<div class="t" style="left:220.05px;top:549.00px;font-size:8.8px;color:#222;letter-spacing:0.050px;">17</div>
<div class="t" style="left:345.87px;top:549.00px;font-size:8.8px;color:#222;letter-spacing:0.050px;">18</div>
<div class="t" style="left:471.79px;top:549.00px;font-size:8.8px;color:#222;letter-spacing:0.050px;">19</div>
<div class="t" style="left:597.57px;top:549.00px;font-size:8.8px;color:#222;letter-spacing:0.050px;">20</div>
<div class="t" style="left:723.53px;top:549.00px;font-size:8.8px;color:#222;letter-spacing:0.050px;">21</div>
<div class="t" style="left:849.40px;top:549.00px;font-size:8.8px;color:#222;letter-spacing:0.050px;">22</div>
<div class="t" style="left:975.22px;top:549.00px;font-size:8.8px;color:#222;letter-spacing:0.050px;">23</div>
<div class="abs" style="left:108.1px;top:335.3px;width:500.9px;height:8.6px;background:#0c18a2;border-radius:2px;overflow:hidden"></div>
<div class="t" style="left:109.47px;top:338.00px;font-size:7.1px;color:#fff;font-weight:bold;letter-spacing:0.117px;">12a</div>
<div class="t" style="left:124.80px;top:338.00px;font-size:7.1px;color:#fff;letter-spacing:0.291px;">Wetter der Welt</div>
<div class="abs" style="left:234.0px;top:345.1px;width:122.9px;height:8.6px;background:#38a6dd;border-radius:2px;overflow:hidden"></div>
<div class="t" style="left:235.47px;top:347.00px;font-size:7.1px;color:#fff;font-weight:bold;letter-spacing:-0.007px;">12</div>
<div class="t" style="left:245.80px;top:347.00px;font-size:7.1px;color:#fff;width:111.1px;overflow:hidden;letter-spacing:0.220px;">Wildapfelbaum: Ein Naturschatz im Wald</div>
<div class="abs" style="left:486.2px;top:345.1px;width:501.2px;height:8.6px;background:#64d8ce;border-radius:2px 0 0 2px;overflow:hidden"></div>
<div class="t" style="left:487.57px;top:347.00px;font-size:7.1px;color:#fff;font-weight:bold;letter-spacing:-0.333px;">12a</div>
<div class="t" style="left:502.23px;top:347.00px;font-size:7.1px;color:#e9fbf9;letter-spacing:0.258px;">Deutsche Laubbäume</div>
<div class="abs" style="left:736.8px;top:335.2px;width:250.6px;height:8.7px;background:#b1b1b1;border-radius:2px 0 0 2px;overflow:hidden"></div>
<div class="t" style="left:737.77px;top:338.00px;font-size:7.1px;color:#fff;font-weight:bold;letter-spacing:-0.333px;">12a</div>
<div class="t" style="left:753.03px;top:338.00px;font-size:7.1px;color:#dedede;letter-spacing:0.171px;">PP #7</div>
<div class="abs" style="left:106.8px;top:412.1px;width:250.2px;height:9.3px;background:#64d8ce;border-radius:0 2px 2px 0;overflow:hidden"></div>
<div class="t" style="left:107.67px;top:415.00px;font-size:7.1px;color:#fff;font-weight:bold;letter-spacing:0.117px;">12a</div>
<div class="t" style="left:123.33px;top:415.00px;font-size:7.1px;color:#e9fbf9;letter-spacing:0.275px;">Deutsche Laubbäume</div>
<div class="abs" style="left:106.8px;top:422.0px;width:880.6px;height:8.6px;background:#b1b1b1;border-radius:0;overflow:hidden"></div>
<div class="t" style="left:107.53px;top:424.00px;font-size:7.1px;color:#dedede;letter-spacing:0.146px;">PP #7</div>
<div class="abs" style="left:106.8px;top:489.7px;width:124.8px;height:8.2px;background:#b1b1b1;border-radius:0 1.500px 1.500px 0;overflow:hidden"></div>
<div class="t" style="left:107.67px;top:492.00px;font-size:7.1px;color:#fff;font-weight:bold;letter-spacing:0.117px;">12a</div>
<div class="t" style="left:123.33px;top:492.00px;font-size:7.1px;color:#dedede;letter-spacing:0.146px;">PP #7</div>
<div class="abs" style="left:360.4px;top:560.6px;width:122.4px;height:8.6px;background:#ca57be;border-radius:2px;overflow:hidden"></div>
<div class="t" style="left:361.77px;top:563.00px;font-size:7.1px;color:#fff;font-weight:bold;letter-spacing:0.117px;">12a</div>
</section>
</body>
</html>
